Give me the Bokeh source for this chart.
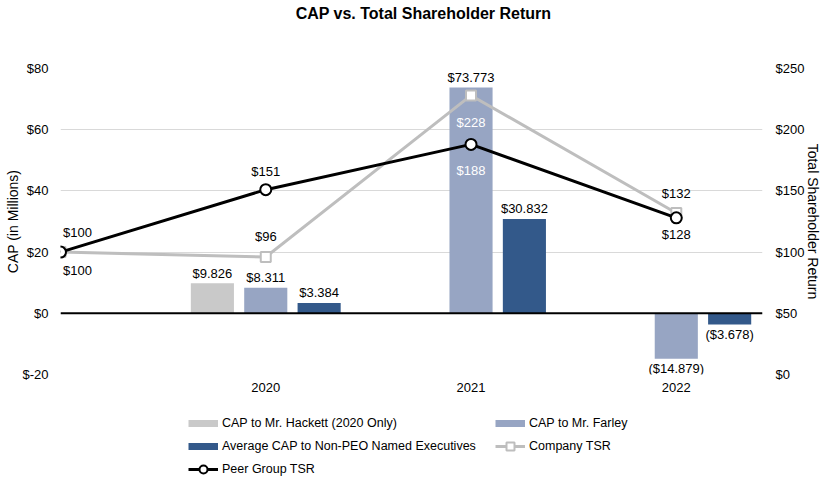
from bokeh.plotting import figure
from bokeh.layouts import column
from bokeh.models import (Range1d, LinearAxis, FixedTicker, Legend, LegendItem,
                          Span, ColumnDataSource)
from bokeh.transform import dodge
from bokeh.core.properties import value
from bokeh.embed import file_html
from bokeh.resources import INLINE

# ---------------- data ----------------
title_text = "CAP vs. Total Shareholder Return"
years = [2020, 2021, 2022]
hackett_years = [2020]
hackett_cap = [9.826]
farley_cap = [8.311, 73.773, -14.879]
neo_cap = [3.384, 30.832, -3.678]

tsr_years = [2019, 2020, 2021, 2022]
company_tsr = [100, 96, 228, 132]
peer_tsr = [100, 151, 188, 128]

cap_ticks = [-20, 0, 20, 40, 60, 80]
cap_tick_labels = ["$-20", "$0", "$20", "$40", "$60", "$80"]
tsr_ticks = [0, 50, 100, 150, 200, 250]
tsr_tick_labels = ["$0", "$50", "$100", "$150", "$200", "$250"]
year_ticks = [2020, 2021, 2022]
year_labels = ["2020", "2021", "2022"]

legend_labels = ["CAP to Mr. Hackett (2020 Only)", "CAP to Mr. Farley",
                 "Average CAP to Non-PEO Named Executives", "Company TSR",
                 "Peer Group TSR"]

# ---------------- style ----------------
FONT = "Liberation Sans"
C_HACKETT = "#C9C9C9"
C_FARLEY = "#97A5C3"
C_NEO = "#33598A"
C_COMPANY = "#BEBEBE"
C_PEER = "#000000"
GRID = "#D9D9D9"
BAR_W = 0.21
OFF = 0.26
W = 827
LEFT, RIGHT = 60, 65
TITLE_H = 40
LEG_H = 79
MAIN_H = 479 - TITLE_H - LEG_H


def money(v):
    return f"${v:.3f}" if v >= 0 else f"(${-v:.3f})"


def strip(h):
    fig = figure(width=W, height=h, x_range=Range1d(LEFT, W - RIGHT), y_range=Range1d(0, h),
                 x_axis_type=None, y_axis_type=None, output_backend="svg",
                 toolbar_location=None, min_border_left=LEFT, min_border_right=RIGHT,
                 min_border_top=0, min_border_bottom=0)
    fig.xgrid.grid_line_color = None
    fig.ygrid.grid_line_color = None
    fig.outline_line_color = None
    return fig


# ---------------- title strip ----------------
t = strip(TITLE_H)
t.text(x=[423], y=[TITLE_H - 13], text=[title_text], text_align="center",
       text_baseline="middle", text_font=value(FONT), text_font_size="16px",
       text_font_style="bold", text_color="#000000")

# ---------------- main chart ----------------
p = figure(width=W, height=MAIN_H, x_range=Range1d(2019, 2022.42),
           y_range=Range1d(-20, 80), output_backend="svg", toolbar_location=None,
           min_border_left=LEFT, min_border_right=RIGHT, min_border_top=68 - TITLE_H,
           min_border_bottom=MAIN_H - (374 - TITLE_H), outline_line_color=None)
p.extra_y_ranges = {"tsr": Range1d(0, 250)}

p.xaxis.ticker = FixedTicker(ticks=year_ticks)
p.xaxis.major_label_overrides = dict(zip(year_ticks, year_labels))
p.yaxis.ticker = FixedTicker(ticks=cap_ticks)
p.yaxis.major_label_overrides = dict(zip(cap_ticks, cap_tick_labels))
p.yaxis.axis_label = "CAP (in Millions)"

right = LinearAxis(y_range_name="tsr", ticker=FixedTicker(ticks=tsr_ticks),
                   axis_label="Total Shareholder Return")
right.major_label_overrides = dict(zip(tsr_ticks, tsr_tick_labels))
p.add_layout(right, "right")

for ax in [p.xaxis[0], p.yaxis[0], right]:
    ax.axis_line_color = None
    ax.major_tick_line_color = None
    ax.minor_tick_line_color = None
    ax.major_tick_out = 0
    ax.major_tick_in = 0
    ax.minor_tick_out = 0
    ax.minor_tick_in = 0
    ax.major_label_text_font = FONT
    ax.major_label_text_font_size = "13px"
    ax.major_label_text_color = "#000000"
    ax.axis_label_text_font = FONT
    ax.axis_label_text_font_size = "14px"
    ax.axis_label_text_font_style = "normal"
    ax.axis_label_text_color = "#000000"
    ax.axis_label_standoff = 2
p.xaxis.major_label_standoff = 8
p.yaxis.major_label_standoff = 12
p.yaxis.axis_label_standoff = -2
right.major_label_standoff = 13

p.xgrid.grid_line_color = None
p.ygrid.ticker = FixedTicker(ticks=cap_ticks)
p.ygrid.grid_line_color = GRID
p.ygrid.grid_line_width = 1

# bars
hsrc = ColumnDataSource(dict(year=hackett_years, val=hackett_cap,
                             label=[money(v) for v in hackett_cap],
                             yoff=[-10 if v >= 0 else 10 for v in hackett_cap]))
fsrc = ColumnDataSource(dict(year=years, val=farley_cap,
                             label=[money(v) for v in farley_cap],
                             yoff=[-10 if v >= 0 else 10 for v in farley_cap]))
nsrc = ColumnDataSource(dict(year=years, val=neo_cap,
                             label=[money(v) for v in neo_cap],
                             yoff=[-10 if v >= 0 else 10 for v in neo_cap]))

for src, off, col in [(hsrc, -OFF, C_HACKETT), (fsrc, 0.0, C_FARLEY), (nsrc, OFF, C_NEO)]:
    xs = dodge("year", off, range=p.x_range)
    p.vbar(x=xs, top="val", bottom=0, width=BAR_W, source=src,
           fill_color=col, line_color=None)
    p.text(x=xs, y="val", text="label", source=src, y_offset="yoff",
           text_align="center", text_baseline="middle",
           text_font=value(FONT), text_font_size="13px", text_color="#000000")

p.add_layout(Span(location=0, dimension="width", line_color="#000000", line_width=2))

# TSR lines
csrc = ColumnDataSource(dict(year=tsr_years, val=company_tsr,
                             label=[f"${v}" for v in company_tsr],
                             xoff=[17, 0, 0, 0],
                             yoff=[-20, -20, 27, -19],
                             tcol=["#000000", "#000000", "#FFFFFF", "#000000"]))
psrc = ColumnDataSource(dict(year=tsr_years, val=peer_tsr,
                             label=[f"${v}" for v in peer_tsr],
                             xoff=[17, 0, 0, 0],
                             yoff=[18, -18, 26, 17],
                             tcol=["#000000", "#000000", "#FFFFFF", "#000000"]))

p.line("year", "val", source=csrc, y_range_name="tsr",
       line_color=C_COMPANY, line_width=3)
p.scatter("year", "val", source=csrc, y_range_name="tsr", marker="square",
          size=10, fill_color="#FFFFFF", line_color=C_COMPANY, line_width=2)
p.line("year", "val", source=psrc, y_range_name="tsr",
       line_color=C_PEER, line_width=3)
p.scatter("year", "val", source=psrc, y_range_name="tsr", marker="circle",
          size=11, fill_color="#FFFFFF", line_color=C_PEER, line_width=2)

for src in [csrc, psrc]:
    p.text(x="year", y="val", text="label", source=src, y_range_name="tsr",
           x_offset="xoff", y_offset="yoff", text_align="center",
           text_baseline="middle", text_font=value(FONT),
           text_font_size="13px", text_color="tcol")

# ---------------- legend strip ----------------
lg = strip(LEG_H)
# proxy renderers placed outside the visible range; only their legend swatches show
px, py = [-1000], [-1000]
r_h = lg.line(x=px, y=py, line_color=C_HACKETT, line_width=7)
r_f = lg.line(x=px, y=py, line_color=C_FARLEY, line_width=7)
r_n = lg.line(x=px, y=py, line_color=C_NEO, line_width=7)
r_cl = lg.line(x=px, y=py, line_color=C_COMPANY, line_width=3)
r_cm = lg.scatter(x=px, y=py, marker="square", fill_color="#FFFFFF",
                  line_color=C_COMPANY, line_width=2)
r_pl = lg.line(x=px, y=py, line_color=C_PEER, line_width=3)
r_pm = lg.scatter(x=px, y=py, marker="circle", fill_color="#FFFFFF",
                  line_color=C_PEER, line_width=2)

items = [
    LegendItem(label=legend_labels[0], renderers=[r_h]),
    LegendItem(label=legend_labels[1], renderers=[r_f]),
    LegendItem(label=legend_labels[2], renderers=[r_n]),
    LegendItem(label=legend_labels[3], renderers=[r_cl, r_cm]),
    LegendItem(label=legend_labels[4], renderers=[r_pl, r_pm]),
]
legend = Legend(items=items, location=(188 - LEFT, 0), orientation="horizontal", ncols=2,
                label_text_font=FONT, label_text_font_size="12.5px",
                label_text_color="#000000", glyph_width=30, glyph_height=20,
                label_height=20, label_width=270, label_standoff=4, spacing=3,
                padding=0, margin=0, border_line_color=None, background_fill_alpha=0)
lg.add_layout(legend)

layout = column(t, p, lg, spacing=0)
open("out.html", "w").write(file_html(layout, INLINE))
